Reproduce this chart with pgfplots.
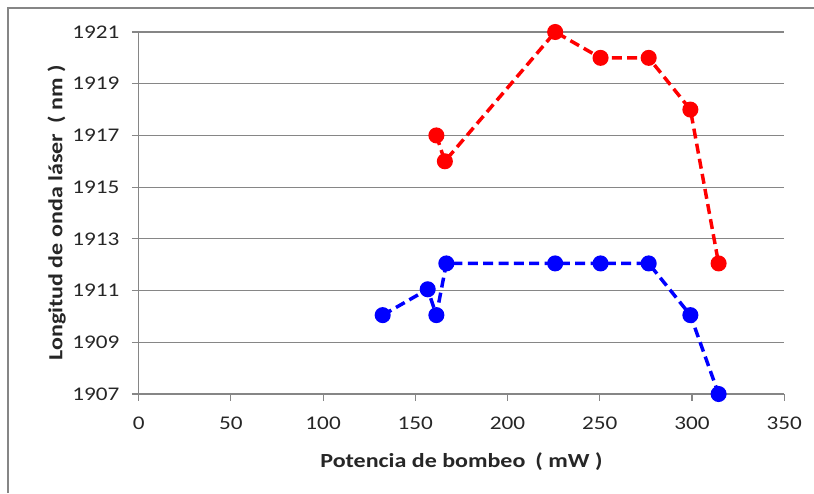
\documentclass[border=0pt]{standalone}
\usepackage{pgfplots}
\pgfplotsset{compat=1.18}
\usepackage{fontspec}
\setmainfont{Carlito}
\newfontfamily\widefont[FakeStretch=1.2]{Carlito}
\definecolor{gridgray}{RGB}{134,134,134}

\begin{document}
\begin{tikzpicture}
\begin{axis}[
    scale only axis,
    width=484.2pt, height=271.5pt,
    xmin=0, xmax=350, ymin=1907, ymax=1921,
    xtick={0,50,...,350},
    ytick={1907,1909,...,1921},
    axis x line*=bottom, axis y line*=left,
    axis line style={gridgray, line width=0.9pt, -},
    tick style={gridgray, line width=0.9pt},
    tick align=outside, major tick length=5pt,
    ymajorgrids, grid style={gridgray, line width=0.9pt},
    /pgf/number format/assume math mode=true,
    /pgf/number format/1000 sep={},
    tick label style={font=\widefont\fontsize{14.5}{16}\selectfont, text=black!85},
    xticklabel style={yshift=-9pt},
    yticklabel style={xshift=-6pt},
    xlabel={\textbf{Potencia de bombeo\enspace( mW )}},
    ylabel={\textbf{Longitud de onda láser\enspace( nm )}},
    label style={font=\widefont\fontsize{15}{17}\selectfont, text=black!85},
    xlabel style={yshift=-10pt},
    ylabel style={yshift=-2pt},
    clip=false,
    every axis plot/.append style={line width=2.6pt, dash pattern=on 7.5pt off 4pt,
        mark=*, mark size=4.7pt, mark options={solid}},
]
\addplot[red] coordinates {
    (161.4,1917) (166,1916) (225.8,1921) (250.4,1920) (276.5,1920) (299.1,1918) (314.4,1912.05)
};
\addplot[blue] coordinates {
    (132.3,1910.05) (156.7,1911.05) (161.4,1910.05) (166.8,1912.05) (225.8,1912.05)
    (250.4,1912.05) (276.5,1912.05) (299.1,1910.05) (314.4,1907)
};
\end{axis}
\useasboundingbox (current axis.south west) ++(-104pt,-74.25pt) rectangle ++(610.5pt,369.75pt);
\draw[gridgray, line width=1.2pt] ([shift={(-98pt,-74.25pt)}]current axis.south west)
    -- ([shift={(-98pt,289.5pt)}]current axis.south west)
    -- ([shift={(506.5pt,289.5pt)}]current axis.south west);
\end{tikzpicture}
\end{document}
